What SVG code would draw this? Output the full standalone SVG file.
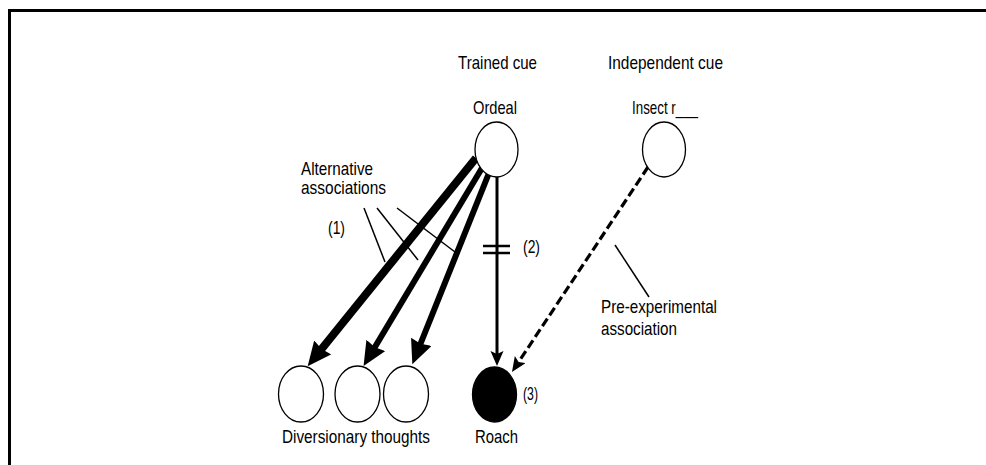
<svg xmlns="http://www.w3.org/2000/svg" width="986" height="465" viewBox="0 0 986 465">
  <style>
    text { font-family: "Liberation Sans Narrow", "Liberation Sans", Arial, sans-serif; font-size: 19px; fill: #000; }
    .node { fill: #fff; stroke: #000; stroke-width: 1.3; }
    .filled { fill: #000; stroke: #000; stroke-width: 1.3; }
    .thick { stroke: #000; fill: none; }
    .thin { stroke: #000; stroke-width: 1.5; fill: none; }
  </style>
  <defs>
    <marker id="bigHead" markerUnits="userSpaceOnUse" markerWidth="26" markerHeight="24" refX="5" refY="11" orient="auto">
      <path d="M0,0 L24,11 L0,22 L2,11 Z" fill="#000"/>
    </marker>
    <marker id="smallHead" markerUnits="userSpaceOnUse" markerWidth="17" markerHeight="15" refX="3" refY="6.5" orient="auto">
      <path d="M0,0 L15,6.5 L0,13 L3,6.5 Z" fill="#000"/>
    </marker>
  </defs>
  <rect width="986" height="465" fill="#fff"/>
  <g id="frame">
    <path d="M9.5,465 L9.5,10.5 L986,10.5" fill="none" stroke="#000" stroke-width="3"/>
  </g>
  <g id="headings">
    <text x="458" y="69" textLength="79" lengthAdjust="spacingAndGlyphs">Trained cue</text>
    <text x="608" y="69" textLength="115" lengthAdjust="spacingAndGlyphs">Independent cue</text>
  </g>
  <g id="connectors">
    <line class="thick" x1="476" y1="158" x2="319.6" y2="351.4" stroke-width="8" marker-end="url(#bigHead)"/>
    <line class="thick" x1="482" y1="168" x2="373.3" y2="349.8" stroke-width="6" marker-end="url(#bigHead)"/>
    <line class="thick" x1="489" y1="173" x2="419.4" y2="346.5" stroke-width="6" marker-end="url(#bigHead)"/>
    <line class="thick" x1="497" y1="177" x2="497" y2="354" stroke-width="3" marker-end="url(#smallHead)"/>
    <line class="thick" x1="648" y1="167" x2="518.6" y2="362" stroke-width="3.2" stroke-dasharray="9,4" marker-end="url(#smallHead)"/>
    <line x1="483" y1="246" x2="510" y2="246" stroke="#000" stroke-width="2.5"/>
    <line x1="483" y1="253" x2="510" y2="253" stroke="#000" stroke-width="2.5"/>
    <line class="thin" x1="364" y1="208" x2="385" y2="262"/>
    <line class="thin" x1="377" y1="208" x2="418" y2="260"/>
    <line class="thin" x1="397" y1="208" x2="455" y2="252"/>
    <line class="thin" x1="615" y1="245" x2="649" y2="297"/>
  </g>
  <g id="ordeal">
    <ellipse class="node" cx="496.5" cy="149.5" rx="21.5" ry="27.5"/>
    <text x="473" y="114" textLength="44" lengthAdjust="spacingAndGlyphs">Ordeal</text>
  </g>
  <g id="insect">
    <ellipse class="node" cx="664" cy="149.5" rx="21.5" ry="27.5"/>
    <text x="632" y="114" textLength="66" lengthAdjust="spacingAndGlyphs">Insect r___</text>
  </g>
  <g id="diversion1">
    <ellipse class="node" cx="301" cy="394" rx="22.5" ry="28"/>
  </g>
  <g id="diversion2">
    <ellipse class="node" cx="357.5" cy="394" rx="22.5" ry="28"/>
  </g>
  <g id="diversion3">
    <ellipse class="node" cx="406" cy="394" rx="22.5" ry="28"/>
  </g>
  <g id="roach">
    <ellipse class="filled" cx="494.5" cy="394.5" rx="22" ry="27.5"/>
    <text x="475" y="443" textLength="43" lengthAdjust="spacingAndGlyphs">Roach</text>
  </g>
  <g id="labels">
    <text x="282" y="443" textLength="148" lengthAdjust="spacingAndGlyphs">Diversionary thoughts</text>
    <text x="301" y="175" textLength="72" lengthAdjust="spacingAndGlyphs">Alternative</text>
    <text x="301" y="194" textLength="85" lengthAdjust="spacingAndGlyphs">associations</text>
    <text x="328" y="234" textLength="17" lengthAdjust="spacingAndGlyphs">(1)</text>
    <text x="523" y="253" textLength="17" lengthAdjust="spacingAndGlyphs">(2)</text>
    <text x="523" y="400" textLength="15" lengthAdjust="spacingAndGlyphs">(3)</text>
    <text x="601" y="313" textLength="116" lengthAdjust="spacingAndGlyphs">Pre-experimental</text>
    <text x="601" y="335" textLength="76" lengthAdjust="spacingAndGlyphs">association</text>
  </g>
</svg>
